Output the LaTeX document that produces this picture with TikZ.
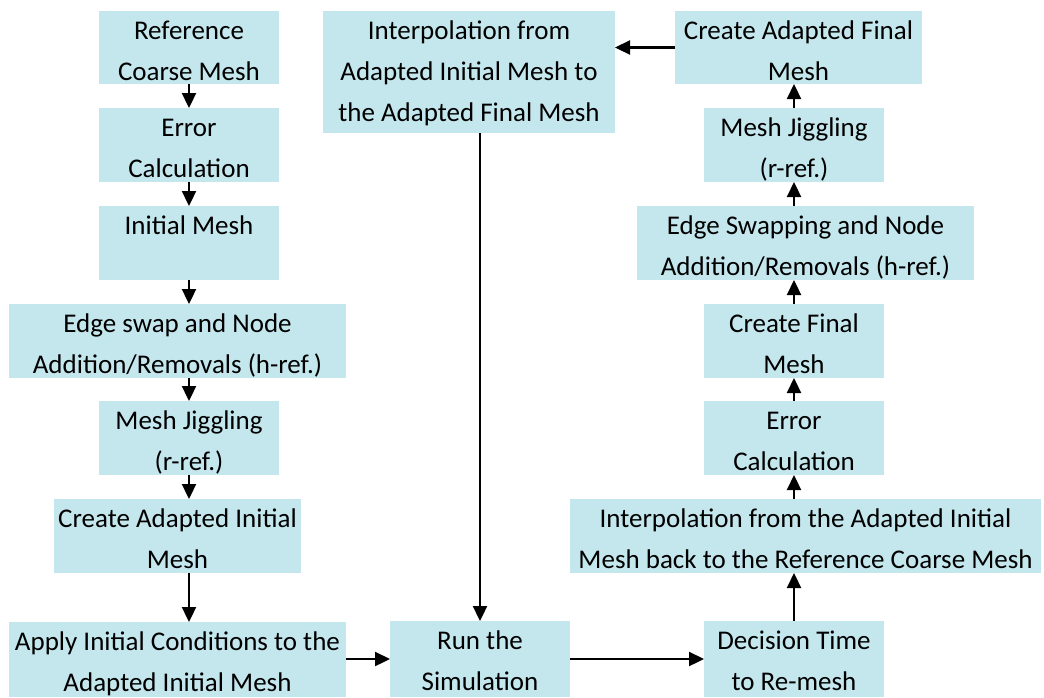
\documentclass[tikz,border=0pt]{standalone}
\usepackage{fontspec}
\setmainfont{Carlito}
\usetikzlibrary{arrows.meta}
\definecolor{boxblue}{RGB}{196,231,238}
\newcommand\bt[3]{\parbox[c][#2][t]{#1}{\centering\fontsize{27}{41}\selectfont\rule{0pt}{28.5pt}#3\par}}
\begin{document}
\begin{tikzpicture}[x=1pt,y=-1pt,
  box/.style={fill=boxblue,inner sep=0pt,outer sep=0pt},
  arr/.style={line width=2.3pt,-{Triangle[length=15pt,width=14pt]}}]
\useasboundingbox (0,0) rectangle (1044,697);
% left column
\node[box] (ref)   at (189,47.5)  {\bt{180pt}{73pt}{Reference\\Coarse Mesh}};
\node[box] (err1)  at (189,145)   {\bt{180pt}{74pt}{Error\\Calculation}};
\node[box] (init)  at (189,243)   {\bt{180pt}{74pt}{Initial Mesh}};
\node[box] (edge1) at (177.5,341) {\bt{337pt}{74pt}{Edge swap and Node\\Addition/Removals (h-ref.)}};
\node[box] (jig1)  at (189,438)   {\bt{180pt}{74pt}{Mesh Jiggling\\(r-ref.)}};
\node[box] (cai)   at (177.5,536) {\bt{247pt}{74pt}{Create Adapted Initial\\Mesh}};
\node[box] (apply) at (177.5,659.5) {\bt{337pt}{75pt}{Apply Initial Conditions to the\\Adapted Initial Mesh}};
% middle
\node[box] (interp1) at (469,72) {\bt{292pt}{122pt}{Interpolation from\\Adapted Initial Mesh to\\the Adapted Final Mesh}};
\node[box] (run) at (480,659) {\bt{180pt}{76pt}{Run the\\Simulation}};
% right column
\node[box] (caf)   at (798.5,47.5) {\bt{247pt}{73pt}{Create Adapted Final\\Mesh}};
\node[box] (jig2)  at (794,145)    {\bt{180pt}{74pt}{Mesh Jiggling\\(r-ref.)}};
\node[box] (edge2) at (805.5,243)  {\bt{337pt}{74pt}{Edge Swapping and Node\\Addition/Removals (h-ref.)}};
\node[box] (cfm)   at (794,341)    {\bt{180pt}{74pt}{Create Final\\Mesh}};
\node[box] (err2)  at (794,438)    {\bt{180pt}{74pt}{Error\\Calculation}};
\node[box] (interp2) at (805.5,536) {\bt{471pt}{74pt}{Interpolation from the Adapted Initial\\Mesh back to the Reference Coarse Mesh}};
\node[box] (dec)   at (794,659)    {\bt{180pt}{76pt}{Decision Time\\to Re-mesh}};
% arrows left
\draw[arr] (ref.south) -- (err1.north);
\draw[arr] (err1.south) -- (init.north);
\draw[arr] (init.south) -- (init.south |- edge1.north);
\draw[arr] (jig1.north |- edge1.south) -- (jig1.north);
\draw[arr] (jig1.south) -- (jig1.south |- cai.north);
\draw[arr] (cai.south -| jig1) -- (apply.north -| jig1);
% bottom row
\draw[arr] (apply.east |- run.west) -- (run.west);
\draw[arr] (interp1.south -| run) -- (run.north);
\draw[arr] (run.east) -- (dec.west);
% right column
\draw[arr] (dec.north) -- (dec.north |- interp2.south);
\draw[arr] (err2.south |- interp2.north) -- (err2.south);
\draw[arr] (err2.north) -- (cfm.south);
\draw[arr] (cfm.north) -- (cfm.north |- edge2.south);
\draw[arr] (jig2.south |- edge2.north) -- (jig2.south);
\draw[arr] (jig2.north) -- (jig2.north |- caf.south);
\draw[arr] (caf.west) -- (interp1.east |- caf.west);
\end{tikzpicture}
\end{document}
